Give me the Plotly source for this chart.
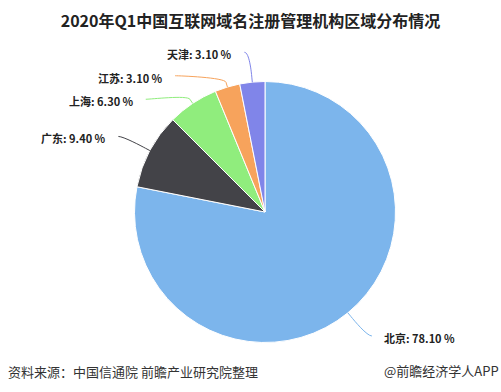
import math
import plotly.graph_objects as go

# ---- data ----
regions = ["北京", "广东", "上海", "江苏", "天津"]
shares = [78.10, 9.40, 6.30, 3.10, 3.10]
colors = ["#7cb5ec", "#434348", "#90ed7d", "#f7a35c", "#8085e9"]
title_text = "2020年Q1中国互联网域名注册管理机构区域分布情况"
source_text = "资料来源：中国信通院 前瞻产业研究院整理"
brand_text = "@前瞻经济学人APP"

# ---- layout geometry (pixels) ----
W, H = 501, 392
CX, CY, R = 265.0, 212.0, 130.5
DIST = 30.0
LABEL_GAP = 23.5
TEXT_DY = 2.0
FONT = "Noto Sans CJK SC"


def px(x):
    return x / W


def py(y):
    return 1 - y / H


fig = go.Figure()
fig.add_trace(go.Pie(
    labels=regions,
    values=shares,
    sort=False,
    direction="clockwise",
    rotation=0,
    marker=dict(colors=colors, line=dict(color="#ffffff", width=1)),
    textinfo="none",
    hoverinfo="skip",
    showlegend=False,
    domain=dict(x=[px(CX - R), px(CX + R)], y=[py(CY + R), py(CY - R)]),
))

# ---- label placement (Highcharts-like) ----
total = sum(shares)
cum = 0.0
items = []
for name, v, col in zip(regions, shares, colors):
    theta = 2 * math.pi * (cum + v / 2) / total
    cum += v
    dx, dy = math.sin(theta), -math.cos(theta)
    side = -1 if dx < 0 else 1
    items.append(dict(name=name, v=v, col=col, dx=dx, dy=dy, side=side,
                      y=CY + (R + DIST) * dy))

for s in (-1, 1):
    group = sorted([it for it in items if it["side"] == s], key=lambda t: t["y"])
    prev = None
    for it in group:
        if prev is not None and it["y"] < prev + LABEL_GAP:
            it["y"] = prev + LABEL_GAP
        prev = it["y"]

annotations = []
shapes = []
RL = R + DIST
for it in items:
    y = it["y"]
    s = it["side"]
    h = max(RL * RL - (y - CY) ** 2, 0.0)
    gx = CX + s * math.sqrt(h)
    ex, ey = CX + R * it["dx"], CY + R * it["dy"]
    bx, by = CX + (R + 5) * it["dx"], CY + (R + 5) * it["dy"]
    c2x, c2y = CX + (R + 10) * it["dx"], CY + (R + 10) * it["dy"]
    path = (f"M {px(gx + s * 5)} {py(y)} C {px(gx)} {py(y)} {px(c2x)} {py(c2y)} "
            f"{px(bx)} {py(by)} L {px(ex)} {py(ey)}")
    shapes.append(dict(type="path", xref="paper", yref="paper", path=path,
                       line=dict(color=it["col"], width=1)))
    annotations.append(dict(
        x=px(gx + s * 16), y=py(y + TEXT_DY), xref="paper", yref="paper",
        xanchor="right" if s < 0 else "left", yanchor="middle",
        text=f"{it['name']}: {it['v']:.2f} %", showarrow=False,
        font=dict(family=FONT, size=11, color="#222222", weight="bold"),
        borderpad=0,
    ))

annotations.append(dict(
    x=px(7), y=py(371), xref="paper", yref="paper", xanchor="left", yanchor="middle",
    text=source_text, showarrow=False,
    font=dict(family=FONT, size=13, color="#333333"), borderpad=0,
))
annotations.append(dict(
    x=px(500), y=py(370), xref="paper", yref="paper", xanchor="right", yanchor="middle",
    text=brand_text, showarrow=False,
    font=dict(family=FONT, size=13, color="#333333"), borderpad=0,
))

fig.update_layout(
    width=W, height=H,
    margin=dict(l=0, r=0, t=0, b=0),
    paper_bgcolor="#ffffff", plot_bgcolor="#ffffff",
    title=dict(text=title_text, x=0.5, xanchor="center", xref="paper",
               y=py(21), yref="container", yanchor="middle",
               font=dict(family=FONT, size=16, color="#222222", weight="bold")),
    annotations=annotations,
    shapes=shapes,
)

fig.write_html("out.html")
